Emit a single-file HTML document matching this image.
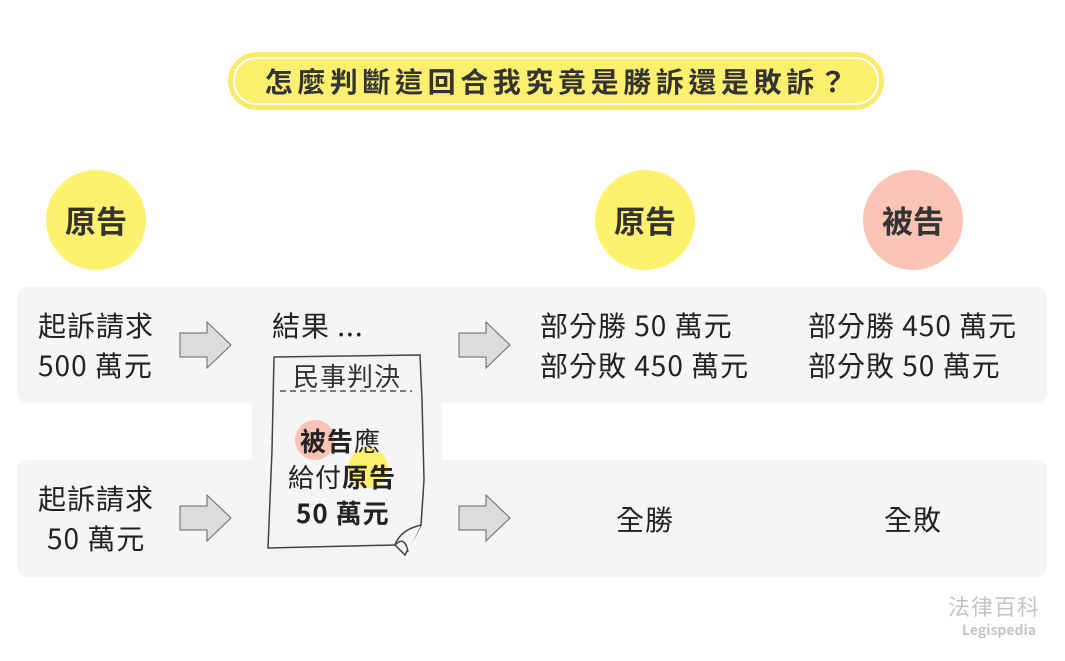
<!DOCTYPE html>
<html><head><meta charset="utf-8"><style>
body{margin:0;width:1065px;height:661px;background:#fff;position:relative;overflow:hidden;font-family:"Noto Sans CJK TC","Liberation Sans",sans-serif;color:#222}
.a{position:absolute}
.t{position:absolute;font-size:28px;line-height:40px;white-space:nowrap;letter-spacing:1px}
.c{position:absolute;width:100px;height:100px;border-radius:50%;font-weight:bold;font-size:31px;line-height:100px;text-align:center;color:#333}
</style></head><body>
<div class="a" style="left:228px;top:52px;width:656px;height:58px;border-radius:29px;background:#fbe96a"></div>
<div class="a" style="left:233px;top:57px;width:642px;height:44px;border-radius:23px;border:2px solid #fff;background:#fdf06e"></div>
<div class="a" style="left:228px;top:52px;width:656px;height:58px;line-height:58px;text-align:center;font-size:28px;font-weight:bold;color:#333;letter-spacing:4.6px;text-indent:4px">怎麼判斷這回合我究竟是勝訴還是敗訴？</div>

<div class="c" style="left:46px;top:170px;background:#fef16e">原告</div>
<div class="c" style="left:595px;top:170px;background:#fef16e">原告</div>
<div class="c" style="left:863px;top:170px;background:#fcc4b6">被告</div>

<div class="a" style="left:17px;top:287px;width:1030px;height:116px;border-radius:10px;background:#f5f5f5"></div>
<div class="a" style="left:17px;top:460px;width:1030px;height:117px;border-radius:10px;background:#f5f5f5"></div>
<div class="a" style="left:252px;top:400px;width:190px;height:64px;background:#f5f5f5"></div>

<div class="t" style="left:38px;top:305px">起訴請求<br>500 萬元</div>
<div class="t" style="left:38px;top:478px">起訴請求<br><span style="padding-left:9px">50 萬元</span></div>
<div class="t" style="left:272px;top:305px">結果 ...</div>
<div class="t" style="left:540px;top:305px">部分勝 50 萬元<br>部分敗 450 萬元</div>
<div class="t" style="left:808px;top:305px">部分勝 450 萬元<br>部分敗 50 萬元</div>
<div class="t" style="left:616px;top:499px">全勝</div>
<div class="t" style="left:884px;top:499px">全敗</div>

<svg class="a" style="left:0;top:0" width="1065" height="661">
<g fill="#dcdcdc" stroke="#666" stroke-width="1">
<polygon points="180,333 207,333 207,322 231,345 207,368 207,357 180,357"/>
<polygon points="180,506 207,506 207,495 231,518 207,541 207,530 180,530"/>
<polygon points="459,333 486,333 486,322 510,345 486,368 486,357 459,357"/>
<polygon points="459,506 486,506 486,495 510,518 486,541 486,530 459,530"/>
</g>
<path d="M274,357 L420,355 L422,400 L424,480 L421,525 L405,555 L395,545 L268,548 L272,450 Z" fill="#f5f5f5" stroke="#444" stroke-width="1.5"/>
<path d="M421,525 Q400,530 395,545 Q405,535 408,552" fill="#f5f5f5" stroke="#444" stroke-width="1.5"/>
<line x1="280" y1="391" x2="412" y2="391" stroke="#555" stroke-width="1.5" stroke-dasharray="6,4"/>
<circle cx="315" cy="440" r="20" fill="#f9c3b5"/>
<circle cx="368" cy="468" r="20" fill="#fdf06e"/>
</svg>
<div class="t" style="left:293px;top:356px;font-size:26px;color:#333">民事判決</div>
<div class="t" style="left:300px;top:421px;font-size:26px"><b>被告</b>應</div>
<div class="t" style="left:288px;top:457px;font-size:26px">給付<b>原告</b></div>
<div class="t" style="left:296px;top:493px;font-size:26px;font-weight:bold">50 萬元</div>

<div class="a" style="left:948px;top:590px;font-size:22px;color:#c4c4c4;letter-spacing:1px">法律百科</div>
<div class="a" style="left:962px;top:620px;font-size:14px;font-weight:bold;color:#c4c4c4">Legispedia</div>
</body></html>
